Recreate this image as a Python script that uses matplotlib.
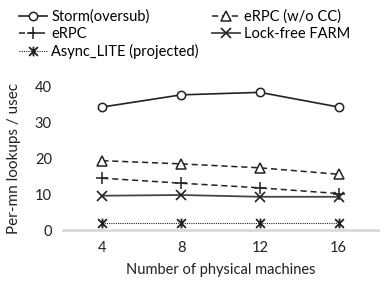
import matplotlib
matplotlib.use("Agg")
import matplotlib.pyplot as plt
from matplotlib.path import Path

machines = ["4", "8", "12", "16"]
storm = [34.4, 37.8, 38.5, 34.4]
erpc_nocc = [19.4, 18.5, 17.4, 15.6]
erpc = [14.5, 13.1, 11.8, 10.2]
farm = [9.6, 9.8, 9.3, 9.3]
async_lite = [2.0, 2.0, 2.0, 2.0]

plt.rcParams['font.family'] = ['Lato', 'DejaVu Sans']

# Excel-style star marker: an X with a vertical stroke
star = Path([(-1, -1), (1, 1), (-1, 1), (1, -1), (0, -1.1), (0, 1.1)],
            [Path.MOVETO, Path.LINETO, Path.MOVETO, Path.LINETO, Path.MOVETO, Path.LINETO])

fig = plt.figure(figsize=(3.9, 2.89), dpi=100)
ax = fig.add_axes([0.1615, 0.204, 0.8075, 0.495])
x = range(len(machines))

l1, = ax.plot(x, storm, color='#222222', lw=1.2, marker='o', ms=6, mfc='white', mec='#222222', mew=1.1, label='Storm(oversub)')
l2, = ax.plot(x, erpc_nocc, color='#222222', lw=1.1, ls=(0, (4, 2.5)), marker='^', ms=6.5, mfc='white', mec='#222222', mew=1.1, label='eRPC (w/o CC)')
l3, = ax.plot(x, erpc, color='#222222', lw=1.1, ls=(0, (4, 2.5)), marker='+', ms=8, mec='#222222', mew=1.1, label='eRPC')
l4, = ax.plot(x, farm, color='#444444', lw=1.3, marker='x', ms=7, mec='#222222', mew=1.2, label='Lock-free FARM')
l5, = ax.plot(x, async_lite, color='#222222', lw=0.8, ls=(0, (1, 1)), marker=star, ms=7, mec='#222222', mew=1.3, label='Async_LITE (projected)')

ax.set_xlim(-0.5, len(machines) - 0.5)
ax.set_ylim(0, 40)
ax.set_yticks([0, 10, 20, 30, 40])
ax.set_xticks(list(x))
ax.set_xticklabels(machines)
for s in ['top', 'right', 'left']:
    ax.spines[s].set_visible(False)
ax.spines['bottom'].set_color('#d9d9d9')
ax.spines['bottom'].set_linewidth(2)
ax.tick_params(length=0, labelsize=10.5, colors='#222222', pad=8)
ax.set_xlabel('Number of physical machines', fontsize=10.5, color='#222222', labelpad=6)
ax.set_ylabel('Per-mn lookups / usec', fontsize=11, color='#222222', labelpad=10)

# row-major order like the original: matplotlib fills legend columns first
handles = [l1, l3, l5, l2, l4]
fig.legend(handles=handles, labels=[h.get_label() for h in handles],
           loc='upper left', bbox_to_anchor=(0.025, 1.0), ncol=2, frameon=False,
           fontsize=10.5, handlelength=1.9, handletextpad=0.3, columnspacing=0.9,
           labelspacing=0.2, borderaxespad=0.25)

fig.savefig('out.png', dpi=100)
